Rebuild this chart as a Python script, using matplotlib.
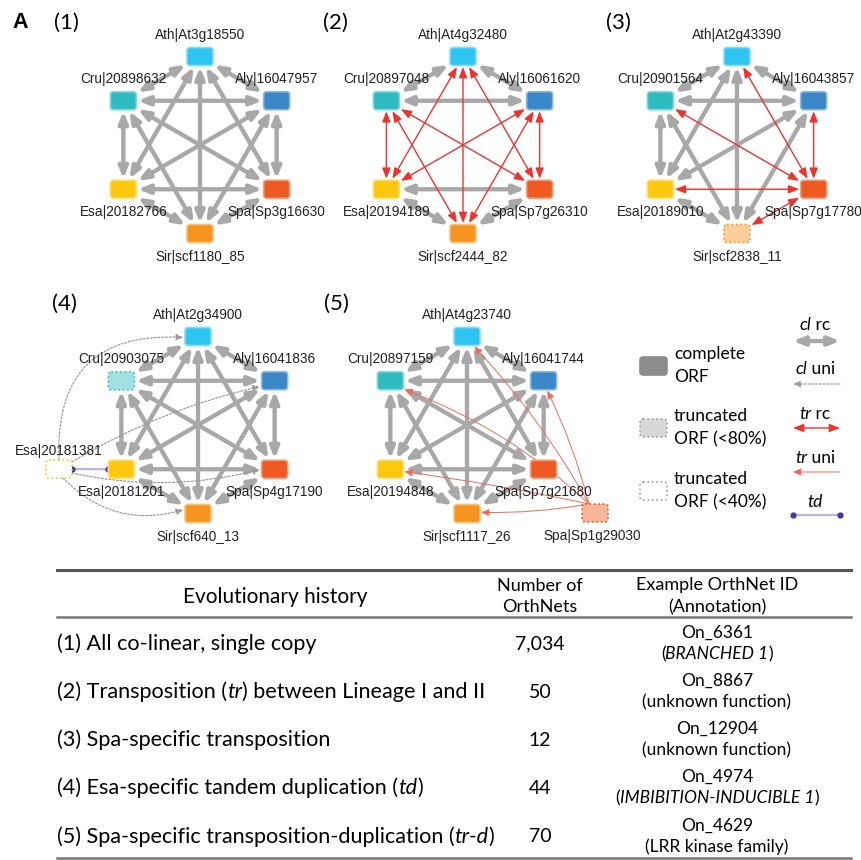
import numpy as np
import matplotlib.pyplot as plt
from matplotlib.patches import FancyArrowPatch, FancyBboxPatch
from matplotlib.colors import to_rgb

plt.rcParams['font.family'] = ['Liberation Sans', 'DejaVu Sans']
TF = 'Lato'  # table / legend font

# ---- data ----
species = ['Ath', 'Cru', 'Aly', 'Esa', 'Spa', 'Sir']
node_colors = ['#2ec5f3', '#2fbcc0', '#3a88c8', '#fdc80e', '#ee5a21', '#f6941f']
gene_ids = [
    ['At3g18550', '20898632', '16047957', '20182766', 'Sp3g16630', 'scf1180_85'],
    ['At4g32480', '20897048', '16061620', '20194189', 'Sp7g26310', 'scf2444_82'],
    ['At2g43390', '20901564', '16043857', '20189010', 'Sp7g17780', 'scf2838_11'],
    ['At2g34900', '20903075', '16041836', '20181201', 'Sp4g17190', 'scf640_13'],
    ['At4g23740', '20897159', '16041744', '20194848', 'Sp7g21680', 'scf1117_26'],
]
panel_tags = ['(1)', '(2)', '(3)', '(4)', '(5)']
lineage1 = [0, 1, 2]
lineage2 = [3, 4, 5]
tr_edges = [
    [],
    [(a, b) for a in lineage1 for b in lineage2],
    [(4, 0), (4, 1), (4, 2), (4, 3), (4, 5)],
    [],
    [],
]
truncated = [{}, {}, {5: 80}, {1: 80}, {}]

# extra gene copies (panel index, species index, id, truncation, links)
extra4 = dict(panel=3, sp=3, gid='20181381', level=40, td_to=3, uni_to=[0, 2, 4, 5])
extra5 = dict(panel=4, sp=4, gid='Sp1g29030', level=80, uni_to=[0, 1, 2, 3, 5])

# *...* marks italic
table_rows = [
    '(1) All co-linear, single copy',
    '(2) Transposition (*tr*) between Lineage I and II',
    '(3) Spa-specific transposition',
    '(4) Esa-specific tandem duplication (*td*)',
    '(5) Spa-specific transposition-duplication (*tr-d*)',
]
n_orthnets = ['7,034', '50', '12', '44', '70']
orthnet_ids = ['On_6361', 'On_8867', 'On_12904', 'On_4974', 'On_4629']
annotations = ['(*BRANCHED 1*)', '(unknown function)', '(unknown function)',
               '(*IMBIBITION-INDUCIBLE 1*)', '(LRR kinase family)']
edge_names = ['*cl* rc', '*cl* uni', '*tr* rc', '*tr* uni', '*td*']

# ---- layout ----
centers = [(200, 145), (463, 145), (737, 145), (198, 425), (467, 425)]
R = 88.5
hex_off = np.array([[0, -R], [-R * 0.866, -R / 2], [R * 0.866, -R / 2],
                    [-R * 0.866, R / 2], [R * 0.866, R / 2], [0, R]])
label_dy = [-21, -22, -22, 23, 23, 24]
HW, HH = 13, 9
GREY = '#a8a8a8'
RED = '#f0322d'
GREY_STYLE = '<|-|>,head_length=0.55,head_width=0.22'

fig = plt.figure(figsize=(8.61, 8.60), dpi=100)
ax = fig.add_axes([0, 0, 1, 1])
ax.set_xlim(0, 861)
ax.set_ylim(860, 0)
ax.axis('off')
renderer = fig.canvas.get_renderer()


def rich(x, y, s, size, ha='left'):
    parts = s.split('*')
    objs = []
    for i, p in enumerate(parts):
        if not p:
            continue
        objs.append(ax.text(0, y, p, fontsize=size, family=TF, va='center', ha='left',
                            style='italic' if i % 2 else 'normal'))
    widths = [t.get_window_extent(renderer).width for t in objs]
    xx = x if ha == 'left' else x - sum(widths) / 2
    for t, w in zip(objs, widths):
        t.set_x(xx)
        xx += w


def lighten(c, f):
    r = np.array(to_rgb(c))
    return tuple(r + (1 - r) * f)


def clip(p, q, pad=1.5):
    p = np.asarray(p, float); q = np.asarray(q, float)
    d = q - p
    tx = (HW + pad) / abs(d[0]) if d[0] else np.inf
    ty = (HH + pad) / abs(d[1]) if d[1] else np.inf
    return p + d * min(tx, ty)


def node(xy, color, level=100, z=5):
    x, y = xy
    if level == 100:
        fc, ec, ls = color, lighten(color, 0.4), '-'
    elif level == 80:
        fc, ec, ls = lighten(color, 0.55), color, ':'
    else:
        fc, ec, ls = 'white', color, ':'
    ax.add_patch(FancyBboxPatch((x - HW, y - HH), 2 * HW, 2 * HH,
                                boxstyle='round,pad=0,rounding_size=3',
                                fc=fc, ec=ec, ls=ls, lw=1.2, zorder=z))


def grey_arrow(p, q):
    a, b = clip(p, q), clip(q, p)
    ax.add_patch(FancyArrowPatch(a, b, arrowstyle=GREY_STYLE,
                                 mutation_scale=12, lw=3.1, color=GREY,
                                 shrinkA=0, shrinkB=0, zorder=1))


def red_arrow(p, q):
    a, b = clip(p, q), clip(q, p)
    ax.add_patch(FancyArrowPatch(a, b, arrowstyle='<|-|>,head_length=0.9,head_width=0.35',
                                 mutation_scale=7, lw=1.0, color=RED,
                                 shrinkA=0, shrinkB=0, zorder=2))


# ---- networks ----
for k, (cx, cy) in enumerate(centers):
    pos = np.array([cx, cy]) + hex_off
    red = set(tuple(sorted(e)) for e in tr_edges[k])
    for i in range(6):
        for j in range(i + 1, 6):
            if (i, j) in red:
                red_arrow(pos[i], pos[j])
            else:
                grey_arrow(pos[i], pos[j])
    for i in range(6):
        node(pos[i], node_colors[i], truncated[k].get(i, 100))
        ax.text(pos[i][0], pos[i][1] + label_dy[i], f'{species[i]}|{gene_ids[k][i]}',
                ha='center', va='center', fontsize=9.8, color='#222222', zorder=6)

# panel (4): tandem duplicate of Esa
cx, cy = centers[extra4['panel']]
pos4 = np.array([cx, cy]) + hex_off
e4 = np.array([cx - 139, cy + 44])
node(e4, node_colors[extra4['sp']], extra4['level'])
ax.text(e4[0], e4[1] - 18, f"{species[extra4['sp']]}|{extra4['gid']}",
        ha='center', va='center', fontsize=9.8, color='#222222')
tgt = pos4[extra4['td_to']]
ax.plot([e4[0] + HW, tgt[0] - HW], [e4[1], tgt[1]], color='#b9b3e6', lw=1.6, zorder=3)
ax.plot([e4[0] + HW, tgt[0] - HW], [e4[1], tgt[1]], ls='none', marker='o', ms=3.5,
        color='#3b3bb0', zorder=4)
rads = {0: -0.55, 2: -0.08, 4: 0.12, 5: 0.3}
starts = {0: (e4[0], e4[1] - HH), 2: (e4[0] + HW, e4[1] - HH + 2),
          4: (e4[0] + HW, e4[1] + 4), 5: (e4[0] + 4, e4[1] + HH)}
for t in extra4['uni_to']:
    b = clip(pos4[t], starts[t] if t != 0 else (pos4[t][0] - 60, pos4[t][1] + 4))
    ax.add_patch(FancyArrowPatch(starts[t], b, connectionstyle=f'arc3,rad={rads[t]}',
                                 arrowstyle='-|>,head_length=0.7,head_width=0.3',
                                 mutation_scale=6, lw=0.9, ls=(0, (1.5, 1.5)),
                                 color='#9a9a9a', shrinkA=0, shrinkB=0, zorder=2))

# panel (5): transposed duplicate of Spa
cx, cy = centers[extra5['panel']]
pos5 = np.array([cx, cy]) + hex_off
e5 = np.array([cx + 128, cy + 88])
node(e5, node_colors[extra5['sp']], extra5['level'])
ax.text(e5[0] - 3, e5[1] + 23, f"{species[extra5['sp']]}|{extra5['gid']}",
        ha='center', va='center', fontsize=9.8, color='#222222')
rads5 = {0: 0.06, 1: 0.1, 2: 0.05, 3: 0.02, 5: -0.05}
for t in extra5['uni_to']:
    a = e5 + np.array([-6, -HH])
    b = clip(pos5[t], a, pad=1)
    ax.add_patch(FancyArrowPatch(a, b, connectionstyle=f'arc3,rad={rads5[t]}',
                                 arrowstyle='-|>,head_length=0.8,head_width=0.35',
                                 mutation_scale=6, lw=0.7, color='#f36a5a',
                                 shrinkA=0, shrinkB=0, zorder=2))

# ---- panel tags ----
ax.text(12, 22, 'A', fontsize=15.5, fontweight='bold', ha='left', va='center',
        family='Liberation Sans')
tag_xy = [(66, 23), (335, 23), (618, 23), (64, 304), (336, 304)]
for t, (x, y) in zip(panel_tags, tag_xy):
    ax.text(x, y, t, fontsize=16, ha='center', va='center', family=TF)

# ---- legend ----
leg_y = [366, 428, 491]
leg_txt = [('complete', 'ORF'), ('truncated', 'ORF (<80%)'), ('truncated', 'ORF (<40%)')]
leg_fill = ['#8c8c8c', '#d8d8d8', 'white']
leg_edge = ['#8c8c8c', '#a0a0a0', '#a0a0a0']
leg_ls = ['-', ':', ':']
for y, (l1, l2), fc, ec, ls in zip(leg_y, leg_txt, leg_fill, leg_edge, leg_ls):
    ax.add_patch(FancyBboxPatch((640, y - 9), 27, 18, boxstyle='round,pad=0,rounding_size=3',
                                fc=fc, ec=ec, ls=ls, lw=1.2))
    ax.text(674, y - 12, l1, fontsize=12.5, family=TF, va='center')
    ax.text(674, y + 11, l2, fontsize=12.5, family=TF, va='center')

edge_y = [325, 369, 414, 458, 502]
for name, y in zip(edge_names, edge_y):
    rich(815, y, name, 12.5, ha='center')
x0, x1 = 793, 840
ax.add_patch(FancyArrowPatch((x0, 341), (x1, 341), arrowstyle=GREY_STYLE,
                             mutation_scale=12, lw=3.1, color=GREY, shrinkA=0, shrinkB=0))
ax.add_patch(FancyArrowPatch((x1, 384), (x0, 384), arrowstyle='-|>,head_length=0.7,head_width=0.3',
                             mutation_scale=6, lw=0.9, ls=(0, (1.5, 1.5)), color='#9a9a9a',
                             shrinkA=0, shrinkB=0))
ax.add_patch(FancyArrowPatch((x0, 428), (x1, 428), arrowstyle='<|-|>,head_length=0.9,head_width=0.35',
                             mutation_scale=7, lw=1.0, color=RED, shrinkA=0, shrinkB=0))
ax.add_patch(FancyArrowPatch((x1, 472), (x0, 472), arrowstyle='-|>,head_length=0.8,head_width=0.35',
                             mutation_scale=6, lw=0.7, color='#f36a5a', shrinkA=0, shrinkB=0))
ax.plot([x0, x1], [515, 515], color='#b9b3e6', lw=1.6)
ax.plot([x0, x1], [515, 515], ls='none', marker='o', ms=3.5, color='#3b3bb0')

# ---- table ----
ax.plot([57, 851], [570, 570], color='#555555', lw=2.2)
ax.plot([57, 851], [617, 617], color='#777777', lw=1.8)
ax.plot([57, 851], [858, 858], color='#777777', lw=1.8)
ax.text(275, 597, 'Evolutionary history', fontsize=15, family=TF, ha='center', va='center')
ax.text(540, 586, 'Number of', fontsize=13, family=TF, ha='center', va='center')
ax.text(540, 607, 'OrthNets', fontsize=13, family=TF, ha='center', va='center')
ax.text(717, 585, 'Example OrthNet ID', fontsize=13, family=TF, ha='center', va='center')
ax.text(717, 607, '(Annotation)', fontsize=13, family=TF, ha='center', va='center')
row_y = [644, 692, 740, 788, 837]
for y, r, n, oid, ann in zip(row_y, table_rows, n_orthnets, orthnet_ids, annotations):
    rich(57, y, r, 15.6)
    ax.text(540, y, n, fontsize=14, family=TF, ha='center', va='center')
    ax.text(717, y - 11, oid, fontsize=12.5, family=TF, ha='center', va='center')
    rich(717, y + 10, ann, 12.5, ha='center')

fig.savefig('out.png', dpi=100)
